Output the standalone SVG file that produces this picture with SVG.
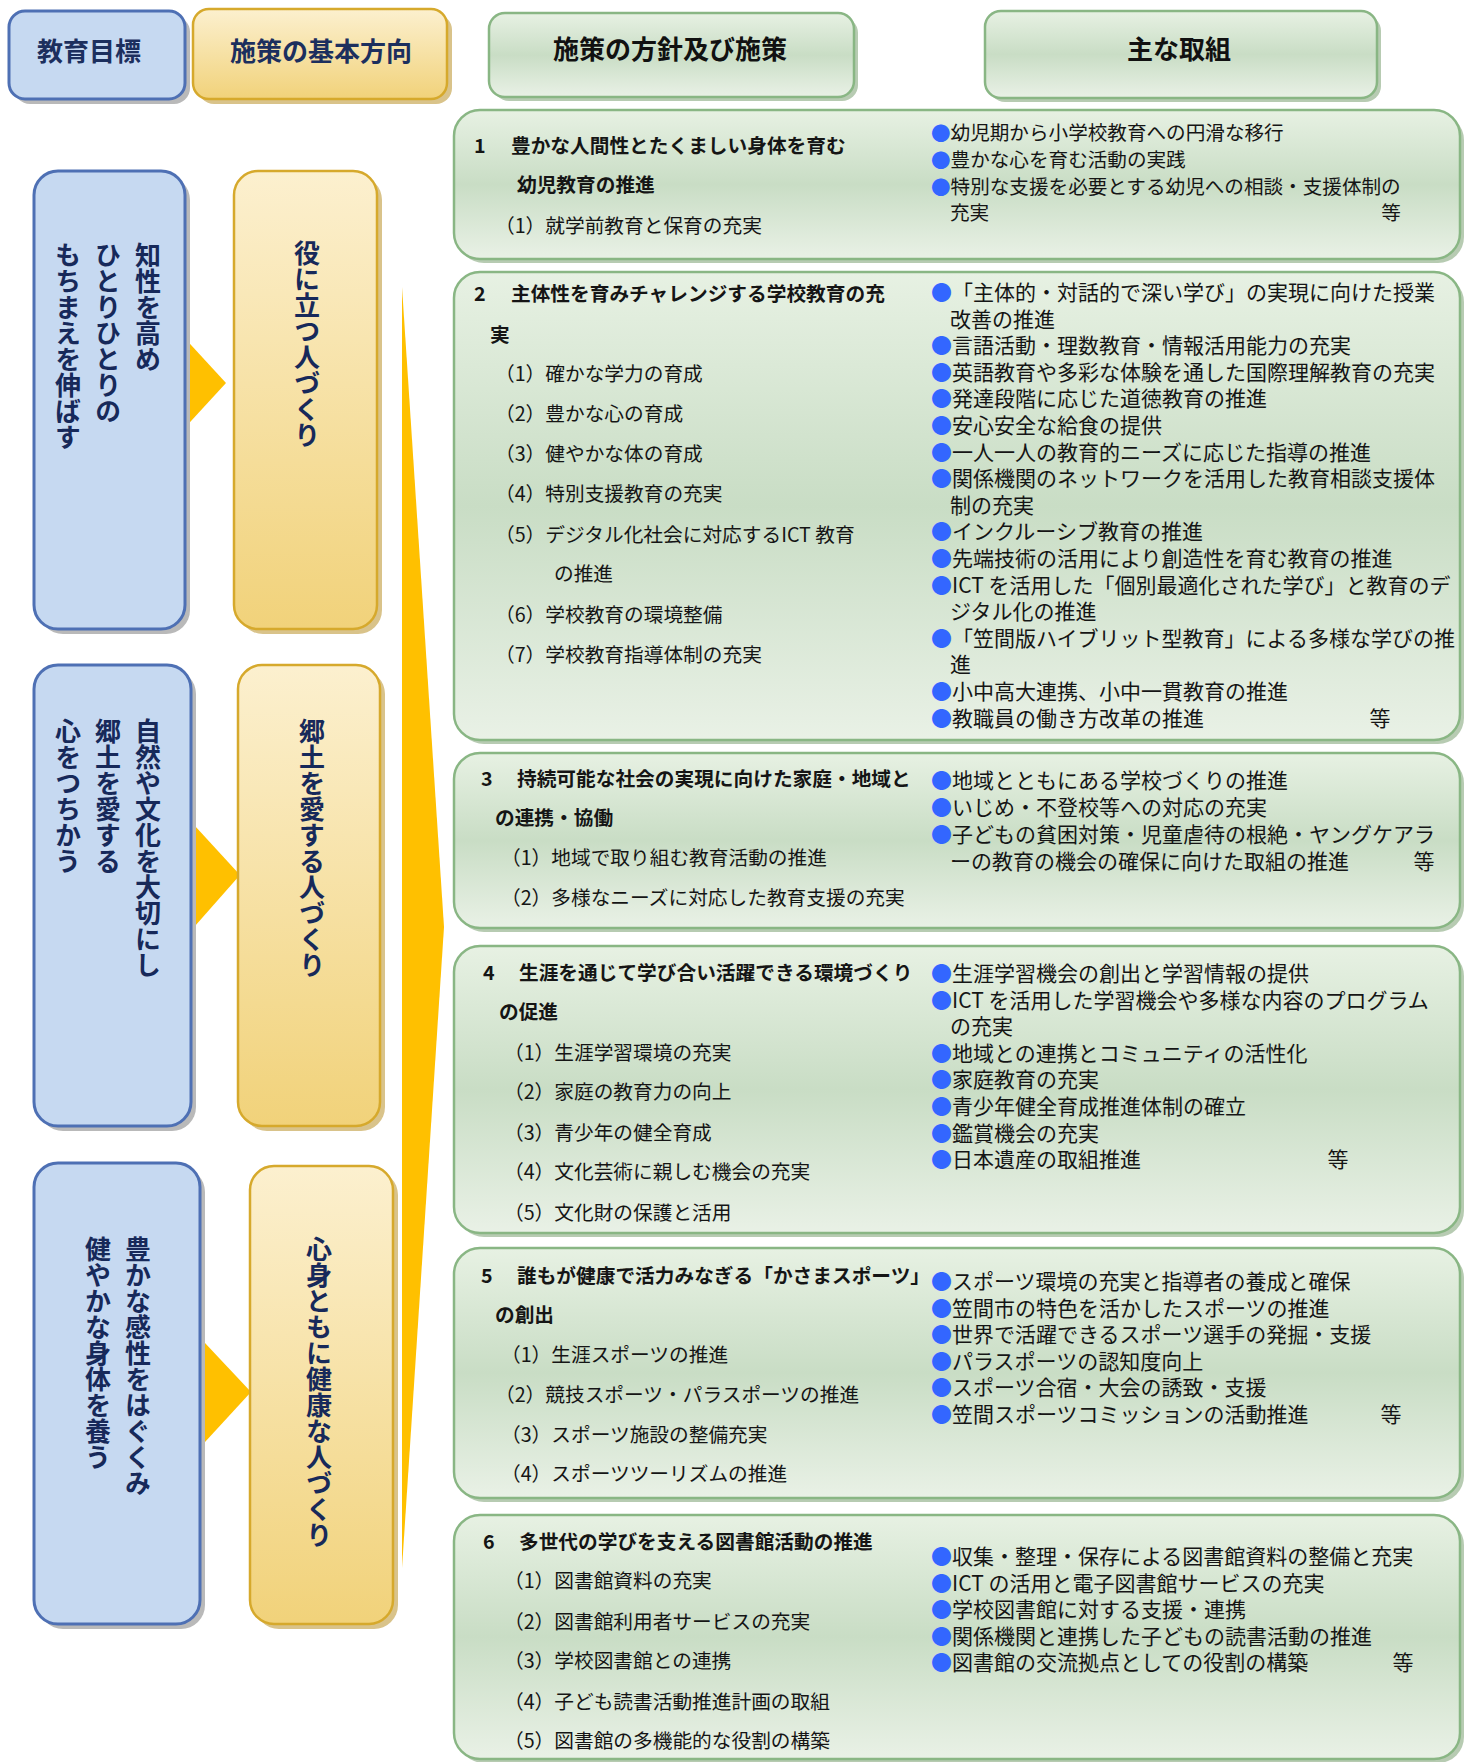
<svg xmlns="http://www.w3.org/2000/svg" width="1469" height="1762" viewBox="0 0 1469 1762">
<defs>
<linearGradient id="gGreen" x1="0" y1="0" x2="0" y2="1">
<stop offset="0" stop-color="#e7f1e3"/>
<stop offset="0.5" stop-color="#c9ddc5"/>
<stop offset="1" stop-color="#e9f1e6"/>
</linearGradient>
<linearGradient id="gYellow" x1="0" y1="0" x2="0" y2="1">
<stop offset="0" stop-color="#fcf0cf"/>
<stop offset="1" stop-color="#f1d27a"/>
</linearGradient>
<style>
text{font-family:"Noto Sans CJK JP","Noto Sans",sans-serif;}
.sh{fill:#b9b9b9;}
.shg{fill:#b7cbb2;}
.shy{fill:#d9c38a;}
.blue{fill:#c6d9f1;stroke:#4e70b4;stroke-width:3;}
.yel{fill:url(#gYellow);stroke:#d6a92c;stroke-width:2.5;}
.grn{fill:url(#gGreen);stroke:#89b684;stroke-width:2.5;}
.arr{fill:#ffc000;}
.h{font-size:26px;font-weight:bold;text-anchor:middle;dominant-baseline:central;}
.nv{fill:#1c2f5e;}
.bk{fill:#111;}
.v{writing-mode:vertical-rl;font-size:26px;font-weight:bold;fill:#17295a;}
.l{font-size:19.7px;fill:#151515;dominant-baseline:central;}
.lb{font-weight:bold;}
.r{font-size:21px;fill:#151515;dominant-baseline:central;}
.r1{font-size:19.6px;}
.b{fill:#3366ff;}
.e{text-anchor:middle;}
</style>
</defs>
<rect width="1469" height="1762" fill="#ffffff"/>

<g id="connectors">
<polygon class="arr" points="402,287 444,927 402,1568"/>
<polygon class="arr" points="180,333 226,383 180,433"/>
<polygon class="arr" points="195,826 240,875 195,926"/>
<polygon class="arr" points="205,1343 251,1392 205,1442"/>
</g>

<g id="header-goal">
<rect class="sh" x="14" y="16" width="176" height="88" rx="16"/>
<rect class="blue" x="9" y="11" width="176" height="88" rx="16"/>
<text class="h nv" x="89" y="49">教育目標</text>
</g>
<g id="header-direction">
<rect class="shy" x="198" y="14" width="254" height="90" rx="16"/>
<rect class="yel" x="193" y="9" width="254" height="90" rx="16"/>
<text class="h nv" x="321" y="49">施策の基本方向</text>
</g>
<g id="header-policy">
<rect class="shg" x="493" y="17" width="365" height="84" rx="16"/>
<rect class="grn" x="489" y="13" width="365" height="84" rx="16"/>
<text class="h bk" x="670" y="47">施策の方針及び施策</text>
</g>
<g id="header-main">
<rect class="shg" x="989" y="15" width="392" height="87" rx="16"/>
<rect class="grn" x="985" y="11" width="392" height="87" rx="16"/>
<text class="h bk" x="1179" y="47">主な取組</text>
</g>

<g id="goal-1">
<rect class="sh" x="39" y="176" width="151" height="458" rx="24"/>
<rect class="blue" x="34" y="171" width="151" height="458" rx="24"/>
<text class="v" x="148" y="242">知性を高め</text>
<text class="v" x="108" y="242">ひとりひとりの</text>
<text class="v" x="68" y="242">もちまえを伸ばす</text>
</g>
<g id="goal-2">
<rect class="sh" x="39" y="670" width="157" height="461" rx="24"/>
<rect class="blue" x="34" y="665" width="157" height="461" rx="24"/>
<text class="v" x="148" y="718">自然や文化を大切にし</text>
<text class="v" x="108" y="718">郷土を愛する</text>
<text class="v" x="68" y="718">心をつちかう</text>
</g>
<g id="goal-3">
<rect class="sh" x="39" y="1168" width="166" height="461" rx="24"/>
<rect class="blue" x="34" y="1163" width="166" height="461" rx="24"/>
<text class="v" x="138" y="1236">豊かな感性をはぐくみ</text>
<text class="v" x="98" y="1236">健やかな身体を養う</text>
</g>

<g id="direction-1">
<rect class="shy" x="239" y="176" width="143" height="458" rx="24"/>
<rect class="yel" x="234" y="171" width="143" height="458" rx="24"/>
<text class="v" x="307" y="240">役に立つ人づくり</text>
</g>
<g id="direction-2">
<rect class="shy" x="243" y="670" width="142" height="461" rx="24"/>
<rect class="yel" x="238" y="665" width="142" height="461" rx="24"/>
<text class="v" x="312" y="718">郷土を愛する人づくり</text>
</g>
<g id="direction-3">
<rect class="shy" x="255" y="1171" width="143" height="458" rx="24"/>
<rect class="yel" x="250" y="1166" width="143" height="458" rx="24"/>
<text class="v" x="319" y="1236">心身ともに健康な人づくり</text>
</g>

<g id="policy-1">
<rect class="shg" x="458" y="114" width="1006" height="149" rx="26"/>
<rect class="grn" x="454" y="110" width="1006" height="149" rx="26"/>
<text class="l lb nv" x="474" y="144">1</text>
<text class="l lb" x="511" y="144">豊かな人間性とたくましい身体を育む</text>
<text class="l lb" x="517" y="183">幼児教育の推進</text>
<text class="l" x="495" y="224">（1）就学前教育と保育の充実</text>
<text class="r r1" x="931" y="131.5"><tspan class="b">●</tspan>幼児期から小学校教育への円滑な移行</text>
<text class="r r1" x="931" y="158.5"><tspan class="b">●</tspan>豊かな心を育む活動の実践</text>
<text class="r r1" x="931" y="185.5"><tspan class="b">●</tspan>特別な支援を必要とする幼児への相談・支援体制の</text>
<text class="r r1" x="950" y="211.5">充実</text>
<text class="r r1 e" x="1391" y="211.5">等</text>
</g>

<g id="policy-2">
<rect class="shg" x="458" y="276" width="1006" height="468" rx="26"/>
<rect class="grn" x="454" y="272" width="1006" height="468" rx="26"/>
<text class="l lb nv" x="474" y="292">2</text>
<text class="l lb" x="511" y="292">主体性を育みチャレンジする学校教育の充</text>
<text class="l lb" x="490" y="333">実</text>
<text class="l" x="495" y="372">（1）確かな学力の育成</text>
<text class="l" x="495" y="412">（2）豊かな心の育成</text>
<text class="l" x="495" y="452">（3）健やかな体の育成</text>
<text class="l" x="495" y="492">（4）特別支援教育の充実</text>
<text class="l" x="495" y="533">（5）デジタル化社会に対応するICT 教育</text>
<text class="l" x="554" y="572">の推進</text>
<text class="l" x="495" y="613">（6）学校教育の環境整備</text>
<text class="l" x="495" y="653">（7）学校教育指導体制の充実</text>
<text class="r" x="931" y="291"><tspan class="b">●</tspan>「主体的・対話的で深い学び」の実現に向けた授業</text>
<text class="r" x="950" y="317.6">改善の推進</text>
<text class="r" x="931" y="344.2"><tspan class="b">●</tspan>言語活動・理数教育・情報活用能力の充実</text>
<text class="r" x="931" y="370.8"><tspan class="b">●</tspan>英語教育や多彩な体験を通した国際理解教育の充実</text>
<text class="r" x="931" y="397.4"><tspan class="b">●</tspan>発達段階に応じた道徳教育の推進</text>
<text class="r" x="931" y="424"><tspan class="b">●</tspan>安心安全な給食の提供</text>
<text class="r" x="931" y="450.6"><tspan class="b">●</tspan>一人一人の教育的ニーズに応じた指導の推進</text>
<text class="r" x="931" y="477.2"><tspan class="b">●</tspan>関係機関のネットワークを活用した教育相談支援体</text>
<text class="r" x="950" y="503.8">制の充実</text>
<text class="r" x="931" y="530.4"><tspan class="b">●</tspan>インクルーシブ教育の推進</text>
<text class="r" x="931" y="557"><tspan class="b">●</tspan>先端技術の活用により創造性を育む教育の推進</text>
<text class="r" x="931" y="583.6"><tspan class="b">●</tspan>ICT を活用した「個別最適化された学び」と教育のデ</text>
<text class="r" x="950" y="610.2">ジタル化の推進</text>
<text class="r" x="931" y="636.8"><tspan class="b">●</tspan>「笠間版ハイブリット型教育」による多様な学びの推</text>
<text class="r" x="950" y="663.4">進</text>
<text class="r" x="931" y="690"><tspan class="b">●</tspan>小中高大連携、小中一貫教育の推進</text>
<text class="r" x="931" y="716.6"><tspan class="b">●</tspan>教職員の働き方改革の推進</text>
<text class="r e" x="1380" y="716.6">等</text>
</g>

<g id="policy-3">
<rect class="shg" x="458" y="757" width="1006" height="175" rx="26"/>
<rect class="grn" x="454" y="753" width="1006" height="175" rx="26"/>
<text class="l lb nv" x="481" y="777">3</text>
<text class="l lb" x="517" y="777">持続可能な社会の実現に向けた家庭・地域と</text>
<text class="l lb" x="495" y="816">の連携・協働</text>
<text class="l" x="501" y="856">（1）地域で取り組む教育活動の推進</text>
<text class="l" x="501" y="896">（2）多様なニーズに対応した教育支援の充実</text>
<text class="r" x="931" y="779"><tspan class="b">●</tspan>地域とともにある学校づくりの推進</text>
<text class="r" x="931" y="806"><tspan class="b">●</tspan>いじめ・不登校等への対応の充実</text>
<text class="r" x="931" y="833"><tspan class="b">●</tspan>子どもの貧困対策・児童虐待の根絶・ヤングケアラ</text>
<text class="r" x="950" y="860">ーの教育の機会の確保に向けた取組の推進</text>
<text class="r e" x="1424" y="860">等</text>
</g>

<g id="policy-4">
<rect class="shg" x="458" y="950" width="1006" height="287" rx="26"/>
<rect class="grn" x="454" y="946" width="1006" height="287" rx="26"/>
<text class="l lb nv" x="483" y="971">4</text>
<text class="l lb" x="519" y="971">生涯を通じて学び合い活躍できる環境づくり</text>
<text class="l lb" x="499" y="1010">の促進</text>
<text class="l" x="504" y="1051">（1）生涯学習環境の充実</text>
<text class="l" x="504" y="1090">（2）家庭の教育力の向上</text>
<text class="l" x="504" y="1131">（3）青少年の健全育成</text>
<text class="l" x="504" y="1170">（4）文化芸術に親しむ機会の充実</text>
<text class="l" x="504" y="1211">（5）文化財の保護と活用</text>
<text class="r" x="931" y="972"><tspan class="b">●</tspan>生涯学習機会の創出と学習情報の提供</text>
<text class="r" x="931" y="998.6"><tspan class="b">●</tspan>ICT を活用した学習機会や多様な内容のプログラム</text>
<text class="r" x="950" y="1025.2">の充実</text>
<text class="r" x="931" y="1051.8"><tspan class="b">●</tspan>地域との連携とコミュニティの活性化</text>
<text class="r" x="931" y="1078.4"><tspan class="b">●</tspan>家庭教育の充実</text>
<text class="r" x="931" y="1105"><tspan class="b">●</tspan>青少年健全育成推進体制の確立</text>
<text class="r" x="931" y="1131.6"><tspan class="b">●</tspan>鑑賞機会の充実</text>
<text class="r" x="931" y="1158.2"><tspan class="b">●</tspan>日本遺産の取組推進</text>
<text class="r e" x="1338" y="1158.2">等</text>
</g>

<g id="policy-5">
<rect class="shg" x="458" y="1252" width="1006" height="250" rx="26"/>
<rect class="grn" x="454" y="1248" width="1006" height="250" rx="26"/>
<text class="l lb nv" x="481" y="1274">5</text>
<text class="l lb" x="517" y="1274">誰もが健康で活力みなぎる「かさまスポーツ」</text>
<text class="l lb" x="495" y="1313">の創出</text>
<text class="l" x="501" y="1353">（1）生涯スポーツの推進</text>
<text class="l" x="495" y="1393">（2）競技スポーツ・パラスポーツの推進</text>
<text class="l" x="501" y="1433">（3）スポーツ施設の整備充実</text>
<text class="l" x="501" y="1472">（4）スポーツツーリズムの推進</text>
<text class="r" x="931" y="1280"><tspan class="b">●</tspan>スポーツ環境の充実と指導者の養成と確保</text>
<text class="r" x="931" y="1306.6"><tspan class="b">●</tspan>笠間市の特色を活かしたスポーツの推進</text>
<text class="r" x="931" y="1333.2"><tspan class="b">●</tspan>世界で活躍できるスポーツ選手の発掘・支援</text>
<text class="r" x="931" y="1359.8"><tspan class="b">●</tspan>パラスポーツの認知度向上</text>
<text class="r" x="931" y="1386.4"><tspan class="b">●</tspan>スポーツ合宿・大会の誘致・支援</text>
<text class="r" x="931" y="1413"><tspan class="b">●</tspan>笠間スポーツコミッションの活動推進</text>
<text class="r e" x="1391" y="1413">等</text>
</g>

<g id="policy-6">
<rect class="shg" x="458" y="1519" width="1006" height="244" rx="26"/>
<rect class="grn" x="454" y="1515" width="1006" height="244" rx="26"/>
<text class="l lb nv" x="483" y="1540">6</text>
<text class="l lb" x="519" y="1540">多世代の学びを支える図書館活動の推進</text>
<text class="l" x="504" y="1579">（1）図書館資料の充実</text>
<text class="l" x="504" y="1620">（2）図書館利用者サービスの充実</text>
<text class="l" x="504" y="1659">（3）学校図書館との連携</text>
<text class="l" x="504" y="1700">（4）子ども読書活動推進計画の取組</text>
<text class="l" x="504" y="1739">（5）図書館の多機能的な役割の構築</text>
<text class="r" x="931" y="1555"><tspan class="b">●</tspan>収集・整理・保存による図書館資料の整備と充実</text>
<text class="r" x="931" y="1581.6"><tspan class="b">●</tspan>ICT の活用と電子図書館サービスの充実</text>
<text class="r" x="931" y="1608.2"><tspan class="b">●</tspan>学校図書館に対する支援・連携</text>
<text class="r" x="931" y="1634.8"><tspan class="b">●</tspan>関係機関と連携した子どもの読書活動の推進</text>
<text class="r" x="931" y="1661.4"><tspan class="b">●</tspan>図書館の交流拠点としての役割の構築</text>
<text class="r e" x="1403" y="1661.4">等</text>
</g>
</svg>
